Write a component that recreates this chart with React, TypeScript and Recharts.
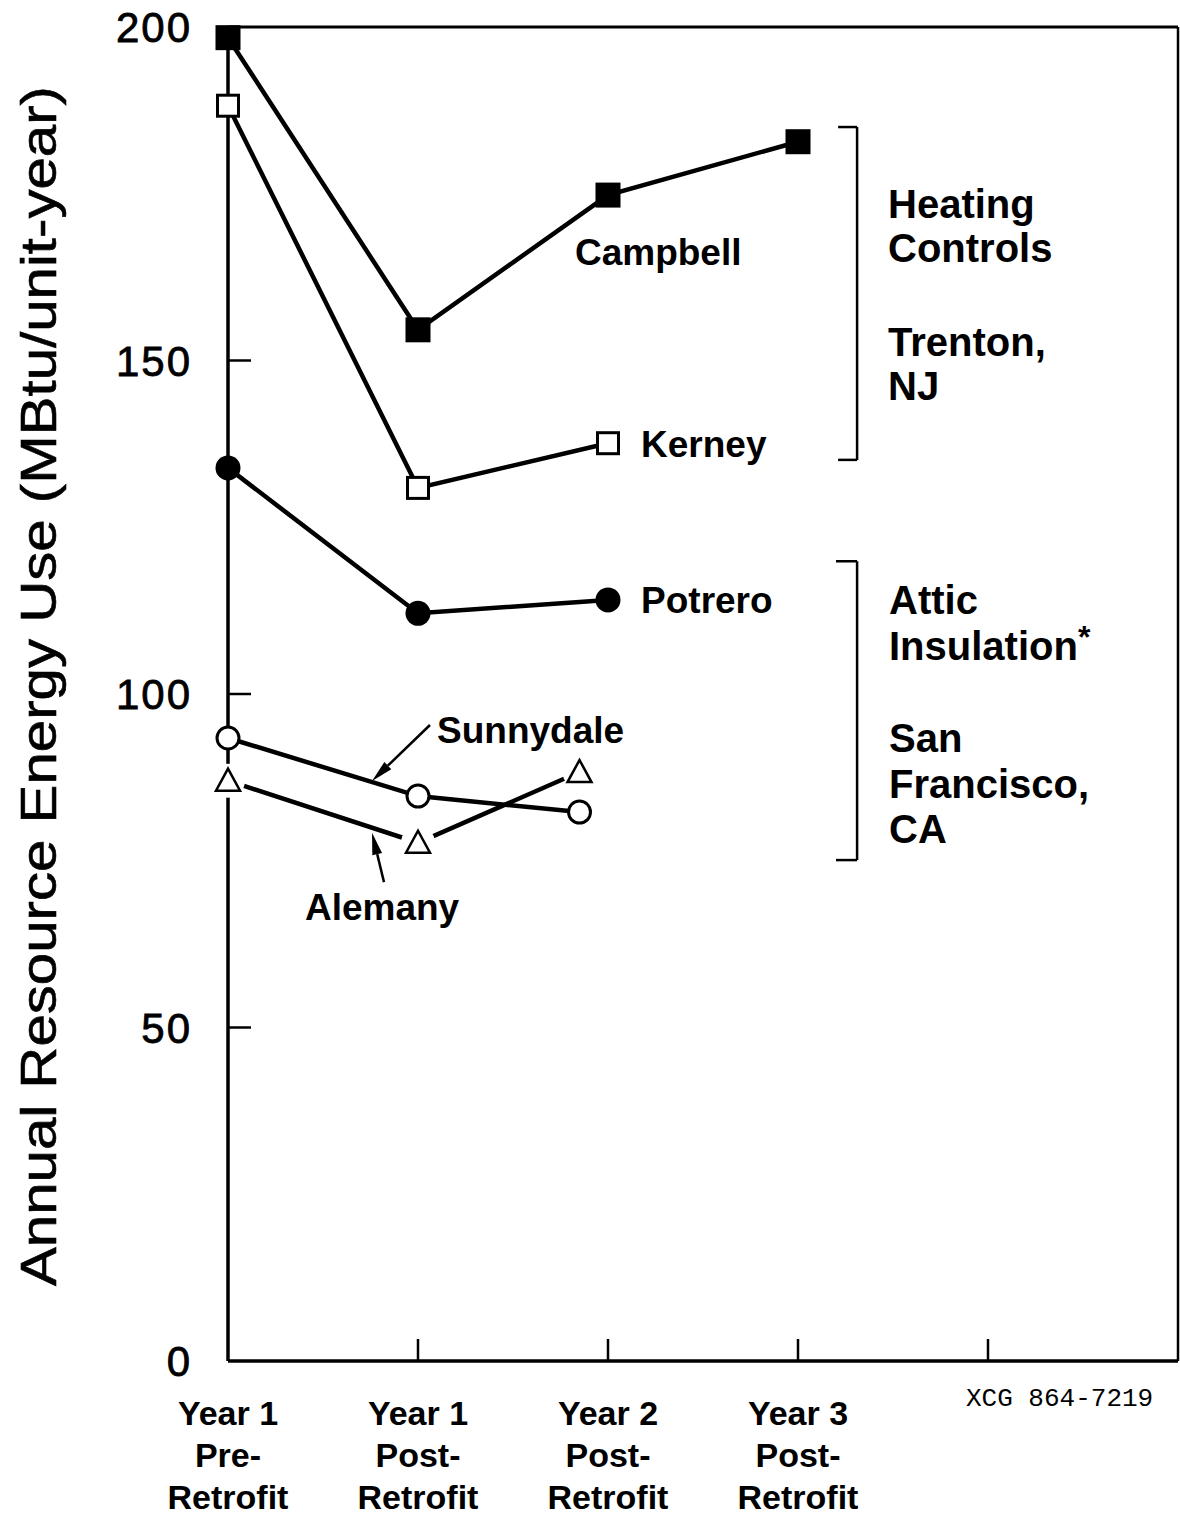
import React from 'react';
import { LineChart, Line, XAxis, YAxis, ReferenceLine, ReferenceDot } from 'recharts';

const stageLabels = [
  ['Year 1', 'Pre-', 'Retrofit'],
  ['Year 1', 'Post-', 'Retrofit'],
  ['Year 2', 'Post-', 'Retrofit'],
  ['Year 3', 'Post-', 'Retrofit'],
];
const xTicks = [0, 1, 2, 3, 4];
const yTicks = [0, 50, 100, 150, 200];

// Heating controls, Trenton NJ
const campbellX = [0, 1, 2, 3];
const campbell = [198.4, 154.6, 174.8, 182.8];
const kerneyX = [0, 1, 2];
const kerney = [188.2, 130.9, 137.6];
// Attic insulation, San Francisco CA
const potreroX = [0, 1, 2];
const potrero = [133.9, 112.1, 114.1];
const sunnydaleX = [0, 1, 1.85];
const sunnydale = [93.4, 84.7, 82.3];
const alemanyX = [0, 1, 1.85];
const alemany = [87.0, 77.7, 88.3];

const FONT = '"Liberation Sans", Arial, Helvetica, sans-serif';

const zip = (xs: number[], ys: number[]) => xs.map((x, i) => ({ x, v: ys[i] }));

// text notes, placed in data units so they follow the scales
const notes = [
  { x: 1.826, y: 166.3, text: 'Campbell', size: 37 },
  { x: 2.174, y: 137.5, text: 'Kerney', size: 37 },
  { x: 2.174, y: 114.1, text: 'Potrero', size: 37 },
  { x: 1.1, y: 94.6, text: 'Sunnydale', size: 37 },
  { x: 0.405, y: 68.1, text: 'Alemany', size: 37 },
  { x: 3.474, y: 173.5, text: 'Heating', size: 40 },
  { x: 3.474, y: 166.9, text: 'Controls', size: 40 },
  { x: 3.474, y: 152.8, text: 'Trenton,', size: 40 },
  { x: 3.474, y: 146.3, text: 'NJ', size: 40 },
  { x: 3.479, y: 114.1, text: 'Attic', size: 40 },
  { x: 3.479, y: 107.2, text: 'Insulation', size: 40, sup: '*' },
  { x: 3.479, y: 93.4, text: 'San', size: 40 },
  { x: 3.479, y: 86.5, text: 'Francisco,', size: 40 },
  { x: 3.479, y: 79.8, text: 'CA', size: 40 },
];

const brackets = [
  { x0: 3.211, x1: 3.311, top: 185.0, bottom: 135.1 },
  { x0: 3.2, x1: 3.311, top: 119.9, bottom: 75.1 },
];

const arrows = [
  { from: { x: 1.063, y: 95.35 }, to: { x: 0.758, y: 86.96 } },
  { from: { x: 0.821, y: 71.8 }, to: { x: 0.758, y: 79.2 } },
];

const FilledSquare = (p: any) =>
  p.cx == null ? null : <rect key={p.key} x={p.cx - 12.5} y={p.cy - 12.5} width={25} height={25} fill="#000" />;
const OpenSquare = (p: any) =>
  p.cx == null ? null : (
    <rect key={p.key} x={p.cx - 10.5} y={p.cy - 10.5} width={21} height={21} fill="#fff" stroke="#000" strokeWidth={3} />
  );
const FilledCircle = (p: any) =>
  p.cx == null ? null : <circle key={p.key} cx={p.cx} cy={p.cy} r={12.5} fill="#000" />;
const OpenCircle = (p: any) =>
  p.cx == null ? null : <circle key={p.key} cx={p.cx} cy={p.cy} r={11} fill="#fff" stroke="#000" strokeWidth={3} />;
const Triangle = (p: any) =>
  p.cx == null ? null : (
    <g key={p.key}>
      <circle cx={p.cx} cy={p.cy} r={17} fill="#fff" />
      <polygon
        points={`${p.cx},${p.cy - 12} ${p.cx - 12},${p.cy + 10} ${p.cx + 12},${p.cy + 10}`}
        fill="#fff"
        stroke="#000"
        strokeWidth={2.5}
        strokeLinejoin="miter"
      />
    </g>
  );

const XTick = (p: any) => {
  const v = p.payload.value;
  const lines = stageLabels[v];
  return (
    <g>
      {v > 0 && <line x1={p.x} x2={p.x} y1={p.y} y2={p.y - 22} stroke="#000" strokeWidth={2.5} />}
      {lines &&
        lines.map((t, i) => (
          <text key={i} x={p.x} y={p.y + 64 + i * 42} textAnchor="middle" fontFamily={FONT} fontWeight={700} fontSize={34} fill="#000">
            {t}
          </text>
        ))}
    </g>
  );
};

const YTick = (p: any) => {
  const v = p.payload.value;
  return (
    <g>
      {v > 0 && v < 200 && <line x1={p.x} x2={p.x + 23} y1={p.y} y2={p.y} stroke="#000" strokeWidth={2.5} />}
      <text
        x={p.x - 36}
        y={p.y + 15}
        textAnchor="end"
        fontFamily={FONT}
        fontSize={42}
        letterSpacing={2}
        stroke="#000"
        strokeWidth={0.8}
        fill="#000"
      >
        {v}
      </text>
    </g>
  );
};

const Arrow = (p: any) => {
  const { x1, y1, x2, y2 } = p;
  const a = Math.atan2(y2 - y1, x2 - x1);
  const L = 22;
  const w = 5;
  const bx = x2 - L * Math.cos(a);
  const by = y2 - L * Math.sin(a);
  return (
    <g>
      <line x1={x1} y1={y1} x2={bx} y2={by} stroke="#000" strokeWidth={2.5} />
      <polygon
        points={`${x2},${y2} ${bx + w * Math.sin(a)},${by - w * Math.cos(a)} ${bx - w * Math.sin(a)},${by + w * Math.cos(a)}`}
        fill="#000"
      />
    </g>
  );
};

const YTitle = () => (
  <text
    transform="translate(56,686) rotate(-90)"
    textAnchor="middle"
    fontFamily={FONT}
    fontSize={50}
    fill="#000"
    stroke="#000"
    strokeWidth={0.6}
    textLength={1200}
    lengthAdjust="spacingAndGlyphs"
  >
    Annual Resource Energy Use (MBtu/unit-year)
  </text>
);

export default function App() {
  const lineProps = { type: 'linear' as const, dataKey: 'v', stroke: '#000', strokeWidth: 4.5, isAnimationActive: false, activeDot: false };
  return (
    <div style={{ position: 'absolute', left: 0, top: 0, background: '#fff' }}>
      <LineChart width={1180} height={1515} margin={{ top: 27, right: 2, bottom: 0, left: 0 }}>
        <XAxis
          type="number"
          dataKey="x"
          domain={[0, 5]}
          ticks={xTicks}
          interval={0}
          height={154}
          tickSize={0}
          tickMargin={0}
          tickLine={false}
          axisLine={{ stroke: '#000', strokeWidth: 3.5 }}
          tick={<XTick />}
        />
        <YAxis
          type="number"
          domain={[0, 200]}
          ticks={yTicks}
          interval={0}
          width={228}
          tickSize={0}
          tickMargin={0}
          tickLine={false}
          axisLine={{ stroke: '#000', strokeWidth: 3.5 }}
          tick={<YTick />}
          label={{ content: () => <YTitle /> }}
        />
        <ReferenceLine y={200} stroke="#000" strokeWidth={3} />
        <ReferenceLine x={5} stroke="#000" strokeWidth={2.5} />
        {brackets.map((b, i) => (
          <React.Fragment key={i}>
            <ReferenceLine segment={[{ x: b.x1, y: b.top }, { x: b.x1, y: b.bottom }]} stroke="#000" strokeWidth={2.5} />
            <ReferenceLine segment={[{ x: b.x0, y: b.top }, { x: b.x1, y: b.top }]} stroke="#000" strokeWidth={2.5} />
            <ReferenceLine segment={[{ x: b.x0, y: b.bottom }, { x: b.x1, y: b.bottom }]} stroke="#000" strokeWidth={2.5} />
          </React.Fragment>
        ))}
        {arrows.map((a, i) => (
          <ReferenceLine key={`a${i}`} segment={[a.from, a.to]} shape={(p: any) => <Arrow {...p} />} />
        ))}
        <Line {...lineProps} name="Sunnydale" data={zip(sunnydaleX, sunnydale)} dot={OpenCircle} />
        <Line {...lineProps} name="Alemany" data={zip(alemanyX, alemany)} dot={Triangle} />
        <Line {...lineProps} name="Potrero" data={zip(potreroX, potrero)} dot={FilledCircle} />
        <Line {...lineProps} name="Kerney" data={zip(kerneyX, kerney)} dot={OpenSquare} />
        <Line {...lineProps} name="Campbell" data={zip(campbellX, campbell)} dot={FilledSquare} />
        {notes.map((n, i) => (
          <ReferenceDot
            key={`n${i}`}
            x={n.x}
            y={n.y}
            r={0}
            ifOverflow="visible"
            shape={(p: any) => (
              <text x={p.cx} y={p.cy + n.size * 0.36} fontFamily={FONT} fontWeight={700} fontSize={n.size} fill="#000">
                {n.text}
                {n.sup && (
                  <tspan dy={-12} fontSize={32}>
                    {n.sup}
                  </tspan>
                )}
              </text>
            )}
          />
        ))}
        <ReferenceDot
          x={3.884}
          y={-5.4}
          r={0}
          ifOverflow="visible"
          shape={(p: any) => (
            <text x={p.cx} y={p.cy + 9} fontFamily='"Liberation Mono", "DejaVu Sans Mono", monospace' fontSize={26} fill="#000">
              XCG 864-7219
            </text>
          )}
        />
      </LineChart>
    </div>
  );
}
